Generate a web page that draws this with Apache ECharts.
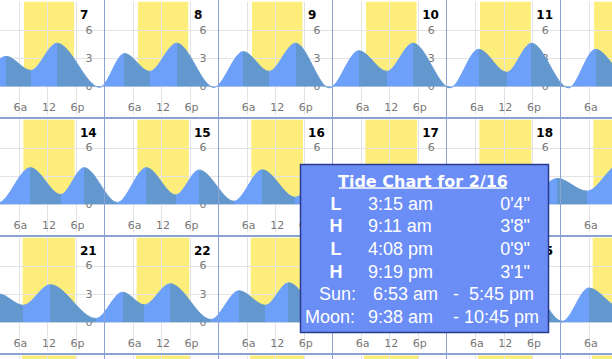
<!DOCTYPE html>
<html><head><meta charset="utf-8">
<script src="https://cdn.jsdelivr.net/npm/echarts@6/dist/echarts.min.js"></script>
<style>html,body{margin:0;padding:0;background:#fff;overflow:hidden}#c{width:612px;height:359px}</style>
</head><body><div id="c"></div>
<script>
// ---------------- DATA ----------------
// day-of-month shown in each calendar cell (4 visible rows x 6 visible columns)
const dayNumbers = [
  [7, 8, 9, 10, 11, 12],
  [14, 15, 16, 17, 18, 19],
  [21, 22, 23, 24, 25, 26],
  [28, 1, 2, 3, 4, 5]
];
// sunrise / sunset (24h clock) for the same cells
const sunrise = [
  ['7:03', '7:02', '7:01', '7:00', '6:59', '6:58'],
  ['6:56', '6:54', '6:53', '6:52', '6:51', '6:50'],
  ['6:47', '6:46', '6:45', '6:43', '6:42', '6:41'],
  ['6:38', '6:37', '6:36', '6:34', '6:33', '6:32']
];
const sunset = [
  ['17:36', '17:37', '17:38', '17:39', '17:40', '17:41'],
  ['17:43', '17:44', '17:45', '17:46', '17:47', '17:48'],
  ['17:49', '17:50', '17:51', '17:52', '17:53', '17:54'],
  ['17:55', '17:56', '17:57', '17:58', '17:58', '17:59']
];
// tide extremes: hours counted from midnight of Feb 7, height in feet
const tideHours = [
  -3.0, 3.3, 8.5, 14.0, 23.0,
  28.2, 33.5, 39.2, 47.0,
  53.2, 58.6, 64.2, 71.3,
  77.5, 83.4, 88.9, 96.7,
  102.7, 108.6, 113.8, 121.6,
  127.3, 133.4, 138.6, 146.4,
  151.9, 157.9, 163.2,
  169.6, 176.4, 182.8, 187.7,
  194.7, 200.8, 207.0, 211.9,
  219.25, 225.18, 232.13, 237.32,
  244.1, 250.0, 257.0, 262.2,
  269.0, 274.8, 281.9, 287.2,
  293.5, 300.5, 307.5, 313.0, 319.0, 325.0, 331.7,
  337.8, 342.9, 348.6, 358.2,
  363.8, 368.4, 373.8, 382.4,
  388.3, 393.85, 398.7, 407.0,
  413.0, 419.0, 423.7, 431.7,
  437.4, 443.8, 448.8, 456.3,
  461.9, 468.5, 473.5
];
const tideFeet = [
  -0.1, 3.2, 1.7, 4.6, -0.1,
  3.5, 1.6, 4.6, -0.1,
  3.7, 1.6, 4.6, -0.15,
  3.8, 1.6, 4.6, -0.15,
  3.95, 1.5, 4.6, -0.15,
  3.95, 1.4, 4.5, 0.0,
  3.95, 1.2, 4.2,
  0.15, 3.9, 1.05, 3.9,
  0.2, 3.9, 1.0, 3.65,
  0.33, 3.67, 0.75, 3.08,
  0.6, 3.5, 0.9, 2.9,
  0.95, 3.4, 1.1, 2.75,
  1.4, 4.3, 0.5, 3.0, 1.6, 4.0, 0.45,
  3.0, 1.8, 4.0, 0.4,
  3.2, 1.85, 4.1, 0.3,
  3.35, 1.8, 4.2, 0.2,
  3.5, 1.7, 4.2, 0.15,
  3.6, 1.6, 4.1, 0.1,
  3.65, 1.55, 4.2
];
const hourTickLabels = ['', '6a', '12', '6p', ''];
const feetTickLabels = ['', '0', '3', '6', ''];
// popup text
const tipTitle = 'Tide Chart for 2/16';
const tipTides = [
  ['L', '3:15 am', "0'4\""],
  ['H', '9:11 am', "3'8\""],
  ['L', '4:08 pm', "0'9\""],
  ['H', '9:19 pm', "3'1\""]
];
const tipSun = ['Sun:', '6:53 am', '-', '5:45 pm'];
const tipMoon = ['Moon:', '9:38 am', '-', '10:45 pm'];

// ---------------- STYLE / LAYOUT ----------------
const LIGHT = '#6da0f8', DARK = '#6398cf', YELLOW = '#fdee7c', GRIDC = '#e3e3e3';
const LABELC = '#777777', BORDER = '#8aa3d3';
const COL_LEFT0 = -9.6, COL_W = 114.1, ROW_TOP0 = 0.5, ROW_H = 117.93;
const ZERO_OFF = 85.9, PXFT = 9.4;
const W = 612, H = 359;
const TIP = { x: 300.5, y: 164.5, w: 248, h: 168 };

// a label is drawn only where it can be seen (inside the picture, not fully under the popup)
const canShow = (x, y, hw, hh) =>
  x - hw >= 0 && x + hw <= W && y + hh <= H &&
  !(x - hw >= TIP.x - 2 && x + hw <= TIP.x + TIP.w + 2 && y - hh >= TIP.y - 2 && y + hh <= TIP.y + TIP.h + 2);

const toHours = s => { const p = s.split(':').map(Number); return p[0] + p[1] / 60; };
const tidePoints = tideHours.map((t, i) => [t, tideFeet[i]]);
const pieces = [];
for (let i = 0; i < tideHours.length - 1; i++) {
  pieces.push({ gte: tideHours[i], lt: tideHours[i + 1], color: tideFeet[i + 1] > tideFeet[i] ? LIGHT : DARK });
}

const grids = [], xAxes = [], yAxes = [], series = [], graphics = [];
dayNumbers.forEach((row, r) => row.forEach((day, c) => {
  const i = grids.length;
  const k = 7 * r + c;
  const left = COL_LEFT0 + c * COL_W;
  const rowTop = ROW_TOP0 + r * ROW_H;
  const zeroY = rowTop + ZERO_OFF;
  grids.push({ left: left, top: zeroY - 9 * PXFT, width: COL_W, height: 12 * PXFT,
    containLabel: false, outerBoundsMode: 'none', show: false });
  xAxes.push({
    type: 'value', gridIndex: i, min: k * 24, max: k * 24 + 24, interval: 6, z: 1.5,
    axisLine: { show: false }, axisTick: { show: false },
    splitLine: { show: true, lineStyle: { width: 1, color: ['rgba(0,0,0,0)', GRIDC, GRIDC, GRIDC, 'rgba(0,0,0,0)'] } },
    axisLabel: { inside: true, margin: 7, verticalAlign: 'middle', color: LABELC, fontSize: 11,
      fontFamily: 'DejaVu Sans', padding: [0, 0, 0, 3],
      formatter: v => {
        const h = v - k * 24;
        if (!canShow(left + h / 24 * COL_W + 1.5, rowTop + 107, 8, 6)) return '';
        return hourTickLabels[Math.round(h / 6)] || '';
      } }
  });
  yAxes.push({
    type: 'value', gridIndex: i, min: -3, max: 9, interval: 3, position: 'right', z: 1.5,
    axisLine: { show: false }, axisTick: { show: false },
    splitLine: { show: true, lineStyle: { width: 1, color: ['rgba(0,0,0,0)', GRIDC, GRIDC, GRIDC, 'rgba(0,0,0,0)'] } },
    axisLabel: { inside: true, margin: 15.6, align: 'center', color: LABELC, fontSize: 11,
      fontFamily: 'DejaVu Sans',
      formatter: v => {
        if (!canShow(left + COL_W - 15.6, zeroY - v * PXFT, 4, 6)) return '';
        return feetTickLabels[Math.round((v + 3) / 3)] || '';
      } }
  });
  series.push({
    type: 'line', xAxisIndex: i, yAxisIndex: i, data: tidePoints, smooth: 0.33, smoothMonotone: 'x',
    showSymbol: false, symbol: 'none', silent: true, animation: false, clip: true, z: 2,
    lineStyle: { width: 1 }, areaStyle: { opacity: 1 },
    markArea: {
      silent: true, z: 1, animation: false,
      itemStyle: { color: YELLOW, opacity: 1, borderWidth: 0 },
      data: [[{ xAxis: k * 24 + toHours(sunrise[r][c]), yAxis: 0 }, { xAxis: k * 24 + toHours(sunset[r][c]), yAxis: 9 }]]
    }
  });
  const label = String(day);
  const hw = label.length * 4.2;
  const nx = left + 89.5, ny = rowTop + 14.5;
  if (canShow(nx + hw, ny, hw, 6)) {
    graphics.push({
      type: 'text', z: 40, silent: true,
      style: { x: nx, y: ny, text: label, fill: '#000',
        font: 'bold 12px "DejaVu Sans"', align: 'left', verticalAlign: 'middle' }
    });
  }
}));

// cell borders
for (let c = 1; c <= 5; c++) {
  const x = Math.round(COL_LEFT0 + c * COL_W - 0.5) + 0.5;
  graphics.push({ type: 'line', z: 50, silent: true, shape: { x1: x, y1: 0, x2: x, y2: H },
    style: { stroke: BORDER, lineWidth: 1 } });
}
for (let r = 1; r <= 3; r++) {
  const y = Math.round(ROW_TOP0 + r * ROW_H);
  graphics.push({ type: 'line', z: 50, silent: true, shape: { x1: 0, y1: y, x2: W, y2: y },
    style: { stroke: BORDER, lineWidth: 2 } });
}

// popup box
graphics.push({ type: 'rect', z: 100, silent: true, shape: { x: TIP.x, y: TIP.y, width: TIP.w, height: TIP.h },
  style: { fill: '#6a8df6', stroke: '#2a3a8c', lineWidth: 1.5 } });
const txt = (x, y, text, font, align) => graphics.push({ type: 'text', z: 101, silent: true,
  style: { x: x, y: y, text: text, fill: '#ffffff', font: font, align: align, verticalAlign: 'middle' } });
const BODY = '18px "Liberation Sans"', BOLD = 'bold 18px "Liberation Sans"';
txt(423, 181.5, tipTitle, 'bold 16px "DejaVu Sans"', 'center');
graphics.push({ type: 'line', z: 101, silent: true, shape: { x1: 339, y1: 188, x2: 507, y2: 188 },
  style: { stroke: '#ffffff', lineWidth: 1.5 } });
tipTides.forEach((t, j) => {
  const y = 203.5 + j * 22.7;
  txt(336, y, t[0], BOLD, 'center');
  txt(368, y, t[1], BODY, 'left');
  txt(530, y, t[2], BODY, 'right');
});
txt(319, 294.3, tipSun[0], BODY, 'left');
txt(373, 294.3, tipSun[1], BODY, 'left');
txt(456, 294.3, tipSun[2], BODY, 'center');
txt(469, 294.3, tipSun[3], BODY, 'left');
txt(305, 317, tipMoon[0], BODY, 'left');
txt(368, 317, tipMoon[1], BODY, 'left');
txt(456, 317, tipMoon[2], BODY, 'center');
txt(464, 317, tipMoon[3], BODY, 'left');

const chart = echarts.init(document.getElementById('c'), null, { renderer: 'svg', width: W, height: H });
chart.setOption({
  animation: false,
  backgroundColor: '#ffffff',
  grid: grids, xAxis: xAxes, yAxis: yAxes, series: series,
  visualMap: { type: 'piecewise', show: false, dimension: 0, seriesIndex: series.map((s, i) => i),
    pieces: pieces, outOfRange: { color: LIGHT } },
  graphic: { elements: graphics }
});
</script>
</body></html>
